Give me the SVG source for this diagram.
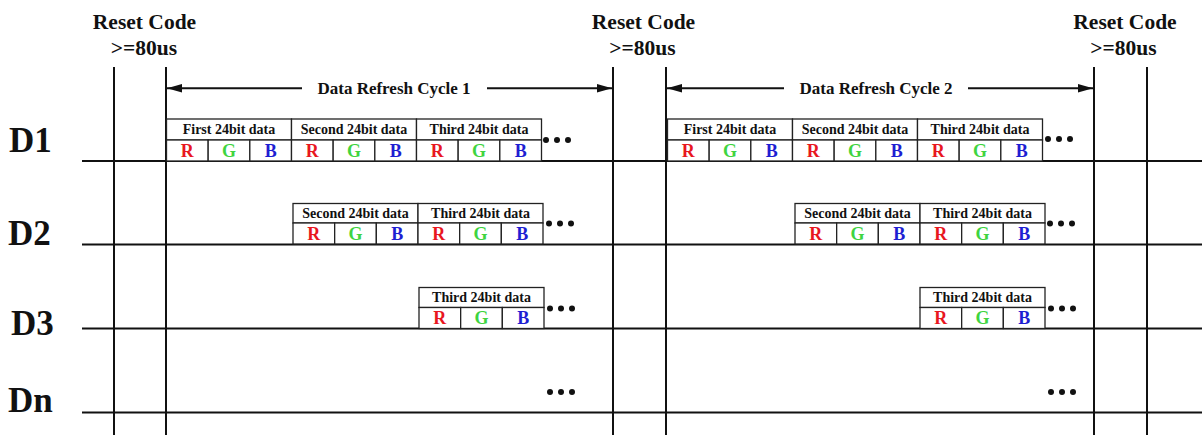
<svg xmlns="http://www.w3.org/2000/svg" xmlns:xlink="http://www.w3.org/1999/xlink" width="1202" height="435" viewBox="0 0 1202 435">
<style>
text{font-family:"Liberation Serif","Times New Roman",serif;font-weight:bold;fill:#111;text-anchor:middle}
.rc{font-size:21.5px}
.row{font-size:35px;text-anchor:start}
.cyc{font-size:17px}
.lbl{font-size:14px}
.r{font-size:18px;fill:#e8161e}
.g{font-size:18px;fill:#3fd43f}
.b{font-size:18px;fill:#1e1ed2}
.cell{fill:#fff;stroke:#222;stroke-width:1.3}
.ln{stroke:#111;stroke-width:2;fill:none}
.dot{fill:#111}
</style>
<defs>
<marker id="ah" viewBox="0 0 15 8.4" refX="15" refY="4.2" markerWidth="15" markerHeight="8.4" markerUnits="userSpaceOnUse" orient="auto">
<path d="M0,0 L15,4.2 L0,8.4 z" fill="#111"/>
</marker>
<g id="rgb">
<rect class="cell" x="0" y="0" width="41.67" height="21"/>
<rect class="cell" x="41.67" y="0" width="41.67" height="21"/>
<rect class="cell" x="83.33" y="0" width="41.67" height="21"/>
<text class="r" x="20.8" y="16.5">R</text>
<text class="g" x="62.5" y="16.5">G</text>
<text class="b" x="104.2" y="16.5">B</text>
</g>
<g id="dots">
<circle class="dot" cx="0" cy="0" r="3"/>
<circle class="dot" cx="11" cy="0" r="3"/>
<circle class="dot" cx="22" cy="0" r="3"/>
</g>
</defs>
<rect width="1202" height="435" fill="#fff"/>

<g id="connectors">
<line class="ln" x1="114" y1="67" x2="114" y2="435"/>
<line class="ln" x1="166" y1="67" x2="166" y2="435"/>
<line class="ln" x1="613" y1="67" x2="613" y2="435"/>
<line class="ln" x1="666" y1="67" x2="666" y2="435"/>
<line class="ln" x1="1094" y1="67" x2="1094" y2="435"/>
<line class="ln" x1="1147" y1="67" x2="1147" y2="435"/>
<line class="ln" x1="82" y1="161" x2="1202" y2="161"/>
<line class="ln" x1="82" y1="244.5" x2="1202" y2="244.5"/>
<line class="ln" x1="82" y1="328.5" x2="1202" y2="328.5"/>
<line class="ln" x1="82" y1="412.5" x2="1202" y2="412.5"/>
<line class="ln" x1="302" y1="88.3" x2="167" y2="88.3" marker-end="url(#ah)"/>
<line class="ln" x1="487" y1="88.3" x2="612" y2="88.3" marker-end="url(#ah)"/>
<line class="ln" x1="784" y1="88.3" x2="667" y2="88.3" marker-end="url(#ah)"/>
<line class="ln" x1="968" y1="88.3" x2="1093" y2="88.3" marker-end="url(#ah)"/>
</g>

<g id="reset1"><text class="rc" x="144.5" y="29">Reset Code</text><text class="rc" x="144" y="55">&gt;=80us</text></g>
<g id="reset2"><text class="rc" x="643.5" y="29">Reset Code</text><text class="rc" x="642.5" y="55">&gt;=80us</text></g>
<g id="reset3"><text class="rc" x="1125" y="29">Reset Code</text><text class="rc" x="1123.5" y="55">&gt;=80us</text></g>

<g id="cycle1"><text class="cyc" x="394" y="93.5">Data Refresh Cycle 1</text></g>
<g id="cycle2"><text class="cyc" x="876" y="93.5">Data Refresh Cycle 2</text></g>

<g id="row-d1"><text class="row" x="9" y="152">D1</text></g>
<g id="row-d2"><text class="row" x="8" y="245">D2</text></g>
<g id="row-d3"><text class="row" x="11" y="335">D3</text></g>
<g id="row-dn"><text class="row" x="8" y="412">Dn</text></g>

<g id="d1-c1">
<rect class="cell" x="166.5" y="119" width="125" height="21"/><text class="lbl" x="229" y="134">First 24bit data</text><use xlink:href="#rgb" x="166.5" y="140"/>
<rect class="cell" x="291.5" y="119" width="125" height="21"/><text class="lbl" x="354" y="134">Second 24bit data</text><use xlink:href="#rgb" x="291.5" y="140"/>
<rect class="cell" x="416.5" y="119" width="125" height="21"/><text class="lbl" x="479" y="134">Third 24bit data</text><use xlink:href="#rgb" x="416.5" y="140"/>
<use xlink:href="#dots" x="546" y="140"/>
</g>
<g id="d2-c1">
<rect class="cell" x="293" y="203.5" width="125" height="19.5"/><text class="lbl" x="355.5" y="217.8">Second 24bit data</text><use xlink:href="#rgb" x="293" y="223"/>
<rect class="cell" x="418" y="203.5" width="125" height="19.5"/><text class="lbl" x="480.5" y="217.8">Third 24bit data</text><use xlink:href="#rgb" x="418" y="223"/>
<use xlink:href="#dots" x="549" y="223.5"/>
</g>
<g id="d3-c1">
<rect class="cell" x="419" y="287.5" width="125" height="20"/><text class="lbl" x="481.5" y="302">Third 24bit data</text><use xlink:href="#rgb" x="419" y="307.5"/>
<use xlink:href="#dots" x="550" y="308.5"/>
</g>
<g id="dn-c1"><use xlink:href="#dots" x="550" y="392"/></g>

<g id="d1-c2">
<rect class="cell" x="667.5" y="119" width="125" height="21"/><text class="lbl" x="730" y="134">First 24bit data</text><use xlink:href="#rgb" x="667.5" y="140"/>
<rect class="cell" x="792.5" y="119" width="125" height="21"/><text class="lbl" x="855" y="134">Second 24bit data</text><use xlink:href="#rgb" x="792.5" y="140"/>
<rect class="cell" x="917.5" y="119" width="125" height="21"/><text class="lbl" x="980" y="134">Third 24bit data</text><use xlink:href="#rgb" x="917.5" y="140"/>
<use xlink:href="#dots" x="1048" y="139"/>
</g>
<g id="d2-c2">
<rect class="cell" x="795" y="203.5" width="125" height="19.5"/><text class="lbl" x="857.5" y="217.8">Second 24bit data</text><use xlink:href="#rgb" x="795" y="223"/>
<rect class="cell" x="920" y="203.5" width="125" height="19.5"/><text class="lbl" x="982.5" y="217.8">Third 24bit data</text><use xlink:href="#rgb" x="920" y="223"/>
<use xlink:href="#dots" x="1050" y="223.5"/>
</g>
<g id="d3-c2">
<rect class="cell" x="920" y="287.5" width="125" height="20"/><text class="lbl" x="982.5" y="302">Third 24bit data</text><use xlink:href="#rgb" x="920" y="307.5"/>
<use xlink:href="#dots" x="1051" y="308.5"/>
</g>
<g id="dn-c2"><use xlink:href="#dots" x="1051" y="392"/></g>
</svg>
